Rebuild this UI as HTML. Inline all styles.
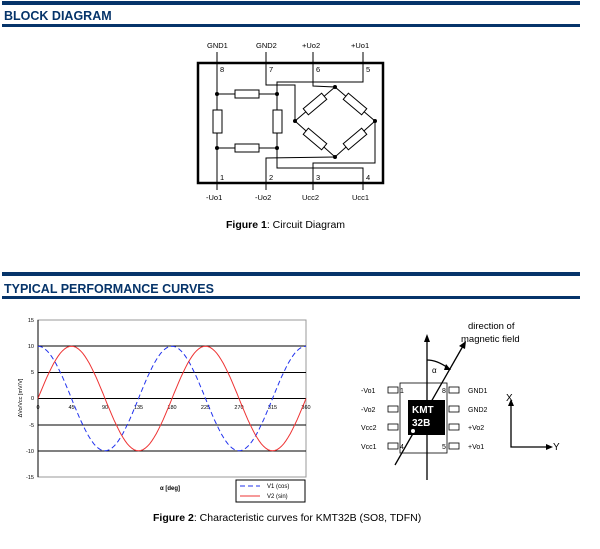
<!DOCTYPE html>
<html><head><meta charset="utf-8"><style>
html,body{margin:0;padding:0;background:#fff;width:600px;height:549px;overflow:hidden}
svg{display:block;font-family:"Liberation Sans",sans-serif}
</style></head><body>
<svg width="600" height="549" viewBox="0 0 600 549" xmlns="http://www.w3.org/2000/svg">
<!-- headers -->
<rect x="2" y="1" width="578" height="4" fill="#06346a"/>
<text x="4" y="20" font-size="12.5" font-weight="bold" fill="#06346a">BLOCK DIAGRAM</text>
<rect x="2" y="24" width="578" height="3" fill="#06346a"/>
<rect x="2" y="272" width="578" height="4" fill="#06346a"/>
<text x="4" y="293" font-size="12.5" font-weight="bold" fill="#06346a">TYPICAL PERFORMANCE CURVES</text>
<rect x="2" y="296" width="578" height="3" fill="#06346a"/>

<!-- circuit -->
<g stroke="#000" fill="none" stroke-width="1">
<rect x="198" y="63" width="185" height="120" stroke-width="2.5"/>
<line x1="217" y1="52" x2="217" y2="190"/>
<polyline points="266,52 266,85 295,85 295,121"/>
<polyline points="313,52 313,86 335,87"/>
<polyline points="363,52 363,82 277,82 277,168 363,168 363,190"/>
<polyline points="266,190 266,158 335,157"/>
<polyline points="313,190 313,163 375,163 375,121"/>
<line x1="217" y1="94" x2="277" y2="94"/>
<line x1="217" y1="148" x2="277" y2="148"/>
<polygon points="335,87 375,121 335,157 295,121"/>
</g>
<g stroke="#000" fill="#fff">
<rect x="235" y="90" width="24" height="8"/>
<rect x="235" y="144" width="24" height="8"/>
<rect x="213" y="110" width="9" height="23"/>
<rect x="273" y="110" width="9" height="23"/>
<rect x="-12" y="-4" width="24" height="8" transform="translate(315,104) rotate(-40)"/>
<rect x="-12" y="-4" width="24" height="8" transform="translate(355,104) rotate(40)"/>
<rect x="-12" y="-4" width="24" height="8" transform="translate(315,139) rotate(40)"/>
<rect x="-12" y="-4" width="24" height="8" transform="translate(355,139) rotate(-40)"/>
</g>
<g fill="#000">
<circle cx="217" cy="94" r="2"/><circle cx="277" cy="94" r="2"/>
<circle cx="217" cy="148" r="2"/><circle cx="277" cy="148" r="2"/>
<circle cx="335" cy="87" r="2"/><circle cx="375" cy="121" r="2"/>
<circle cx="335" cy="157" r="2"/><circle cx="295" cy="121" r="2"/>
</g>
<g font-size="7.5" fill="#000">
<text x="207" y="48">GND1</text><text x="256" y="48">GND2</text>
<text x="302" y="48">+Uo2</text><text x="351" y="48">+Uo1</text>
<text x="220" y="72">8</text><text x="269" y="72">7</text><text x="316" y="72">6</text><text x="366" y="72">5</text>
<text x="220" y="180">1</text><text x="269" y="180">2</text><text x="316" y="180">3</text><text x="366" y="180">4</text>
<text x="206" y="200">-Uo1</text><text x="255" y="200">-Uo2</text>
<text x="302" y="200">Ucc2</text><text x="352" y="200">Ucc1</text>
</g>
<text x="226" y="228" font-size="10.5"><tspan font-weight="bold">Figure 1</tspan>: Circuit Diagram</text>

<!-- chart -->
<rect x="38" y="320" width="268" height="157" fill="none" stroke="#999"/>
<g stroke="#000" stroke-width="1">
<line x1="38" y1="346" x2="306" y2="346"/>
<line x1="38" y1="372.5" x2="306" y2="372.5"/>
<line x1="38" y1="398.5" x2="306" y2="398.5"/>
<line x1="38" y1="425" x2="306" y2="425"/>
<line x1="38" y1="451" x2="306" y2="451"/>
<line x1="38" y1="320" x2="38" y2="477"/>
</g>
<g font-size="5.5" text-anchor="end">
<text x="34" y="322">15</text><text x="34" y="348">10</text><text x="34" y="374">5</text>
<text x="34" y="400">0</text><text x="34" y="427">-5</text><text x="34" y="453">-10</text><text x="34" y="479">-15</text>
</g>
<g font-size="5.5" text-anchor="middle">
<text x="38" y="409">0</text><text x="71.5" y="409">45</text><text x="105" y="409">90</text>
<text x="138.5" y="409">135</text><text x="172" y="409">180</text><text x="205.5" y="409">225</text>
<text x="239" y="409">270</text><text x="272.5" y="409">315</text><text x="306" y="409">360</text>
</g>
<text transform="translate(22,398) rotate(-90)" font-size="5.5" text-anchor="middle">ΔVo/Vcc [mV/V]</text>
<text x="170" y="490" font-size="6" font-weight="bold" text-anchor="middle">α [deg]</text>
<path id="v1" fill="none" stroke="#2233ee" stroke-width="1" stroke-dasharray="5,3"/>
<path id="v2" fill="none" stroke="#ee3333" stroke-width="1"/>
<rect x="236" y="480" width="69" height="22" fill="#fff" stroke="#000"/>
<line x1="240" y1="486" x2="260" y2="486" stroke="#2233ee" stroke-dasharray="5,3"/>
<line x1="240" y1="496" x2="260" y2="496" stroke="#ee3333"/>
<text x="267" y="488" font-size="6">V1 (cos)</text>
<text x="267" y="498" font-size="6">V2 (sin)</text>

<!-- chip -->
<g stroke="#000" fill="#fff" stroke-width="0.8">
<rect x="400" y="383" width="47" height="70"/>
<rect x="388" y="387" width="10" height="6"/><rect x="388" y="406" width="10" height="6"/>
<rect x="388" y="424" width="10" height="6"/><rect x="388" y="443" width="10" height="6"/>
<rect x="449" y="387" width="10" height="6"/><rect x="449" y="406" width="10" height="6"/>
<rect x="449" y="424" width="10" height="6"/><rect x="449" y="443" width="10" height="6"/>
</g>
<g stroke="#000" stroke-width="1.3" fill="none">
<line x1="427" y1="480" x2="427" y2="340"/>
<line x1="395" y1="465" x2="463" y2="346"/>
<path d="M427,360 Q437,360 448,368"/>
<polyline points="511,405 511,447 548,447"/>
</g>
<rect x="408" y="400" width="37" height="35" fill="#000"/>
<text x="412" y="413" font-size="10" font-weight="bold" fill="#fff">KMT</text>
<text x="412" y="426" font-size="10" font-weight="bold" fill="#fff">32B</text>
<circle cx="413" cy="431" r="2" fill="#fff"/>
<polygon points="427,334 424,342 430,342" fill="#000"/>
<polygon points="466,341 459,346 465,349" fill="#000"/>
<polygon points="451,370 446,364 444,370" fill="#000"/>
<polygon points="511,399 508,406 514,406" fill="#000"/>
<polygon points="553,447 546,444 546,450" fill="#000"/>
<text x="432" y="373" font-size="8">α</text>
<text x="468" y="329" font-size="9.5">direction of</text>
<text x="461" y="342" font-size="9.5">magnetic field</text>
<text x="506" y="401" font-size="10">X</text>
<text x="553" y="450" font-size="10">Y</text>
<g font-size="7">
<text x="361" y="393">-Vo1</text><text x="361" y="412">-Vo2</text>
<text x="361" y="430">Vcc2</text><text x="361" y="449">Vcc1</text>
<text x="468" y="393">GND1</text><text x="468" y="412">GND2</text>
<text x="468" y="430">+Vo2</text><text x="468" y="449">+Vo1</text>
<text x="400" y="393">1</text><text x="400" y="449">4</text>
<text x="442" y="393">8</text><text x="442" y="449">5</text>
</g>
<text x="153" y="521" font-size="10.5"><tspan font-weight="bold">Figure 2</tspan>: Characteristic curves for KMT32B (SO8, TDFN)</text>
</svg>
<script>
var a="",b="";
for(var i=0;i<=360;i+=3){var x=38+i*268/360,r=2*i*Math.PI/180;
a+=(i?"L":"M")+x.toFixed(1)+","+(398.5-52.3*Math.cos(r)).toFixed(1);
b+=(i?"L":"M")+x.toFixed(1)+","+(398.5-52.3*Math.sin(r)).toFixed(1);}
document.getElementById("v1").setAttribute("d",a);
document.getElementById("v2").setAttribute("d",b);
</script>
</body></html>
